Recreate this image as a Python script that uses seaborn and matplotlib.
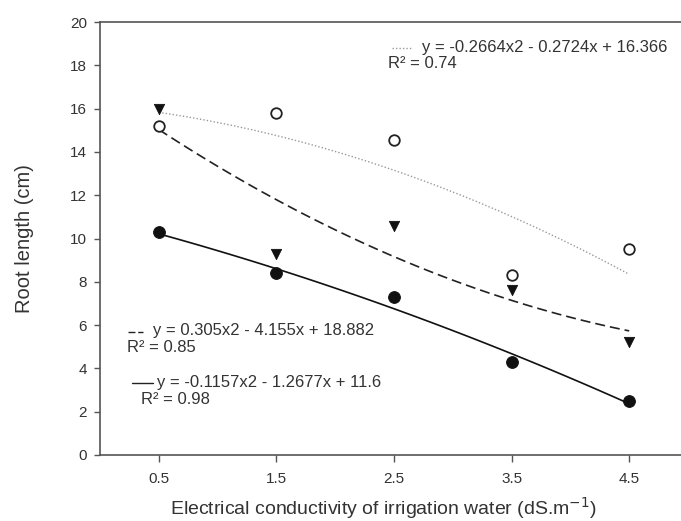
import numpy as np
import pandas as pd
import matplotlib
matplotlib.use("Agg")
import matplotlib.pyplot as plt
import seaborn as sns

ec = [0.5, 1.5, 2.5, 3.5, 4.5]
filled_circle = [10.3, 8.4, 7.3, 4.3, 2.5]
triangle = [16.0, 9.3, 10.6, 7.6, 5.2]
open_circle = [15.2, 15.8, 14.55, 8.3, 9.5]

coef_open = [-0.2664, -0.2724, 16.366]
coef_tri = [0.305, -4.155, 18.882]
coef_filled = [-0.1157, -1.2677, 11.6]

sns.set_theme(style="white")
plt.rcParams['font.family'] = ['Liberation Sans', 'DejaVu Sans']
tc = '#333333'

fig = plt.figure(figsize=(6.81, 5.21), dpi=100)
ax = fig.add_axes([100 / 681, 1 - 455 / 521, 588 / 681, 433 / 521])

# trend curves (x index 1..5 mapped onto 0.5..4.5)
xs = np.linspace(1, 5, 100)
xplot = xs - 0.5
def curve(c):
    return c[0] * xs**2 + c[1] * xs + c[2]

sns.lineplot(x=xplot, y=curve(coef_open), ax=ax, color='#999999', lw=1.0,
             linestyle=(0, (1, 1.5)))
sns.lineplot(x=xplot, y=curve(coef_tri), ax=ax, color='#222222', lw=1.2,
             linestyle=(0, (6, 3)))
sns.lineplot(x=xplot, y=curve(coef_filled), ax=ax, color='#111111', lw=1.2)

sns.scatterplot(x=ec, y=open_circle, ax=ax, marker='o', s=58,
                facecolor='white', edgecolor='#222222', linewidth=1.3, zorder=5)
sns.scatterplot(x=ec, y=triangle, ax=ax, marker='v', s=55,
                color='#111111', edgecolor='#111111', zorder=5)
sns.scatterplot(x=ec, y=filled_circle, ax=ax, marker='o', s=72,
                color='#111111', edgecolor='#111111', zorder=5)

ax.set_xlim(0, 5)
ax.set_ylim(0, 20)
ax.set_xticks(ec)
ax.set_xticklabels([str(v) for v in ec])
ax.set_yticks(np.arange(0, 21, 2))
ax.tick_params(axis='both', colors='#555555', labelcolor=tc, labelsize=11,
               length=5, direction='out', bottom=True, left=True, width=1)
ax.tick_params(axis='x', pad=7)
ax.tick_params(axis='y', pad=5, length=4.5)
for s in ['left', 'bottom', 'top']:
    ax.spines[s].set_color('#555555')
    ax.spines[s].set_linewidth(1.2)
ax.spines['right'].set_visible(False)
ax.set_xlabel('')
ax.set_ylabel('')

def px(x, y):
    return (x / 681, 1 - y / 521)

fig.text(*px(383, 508), 'Electrical conductivity of irrigation water (dS.m$^{-1}$)',
         fontsize=14, color=tc, ha='center', va='center')
fig.text(*px(24, 239), 'Root length (cm)', fontsize=14.5, color=tc,
         ha='center', va='center', rotation=90)

# equation annotations
fs = 12
fig.add_artist(plt.Line2D([392 / 681, 411 / 681], [1 - 48 / 521] * 2,
                          color='#999999', lw=1, linestyle=(0, (1, 1.5))))
fig.text(*px(422, 47), 'y = -0.2664x2 - 0.2724x + 16.366', fontsize=fs,
         color=tc, va='center')
fig.text(*px(388, 64), 'R² = 0.74', fontsize=fs, color=tc, va='center')

fig.add_artist(plt.Line2D([128 / 681, 143 / 681], [1 - 332 / 521] * 2,
                          color='#222222', lw=1, linestyle=(0, (5, 2))))
fig.text(*px(153, 330), 'y = 0.305x2 - 4.155x + 18.882', fontsize=fs,
         color=tc, va='center')
fig.text(*px(127, 348), 'R² = 0.85', fontsize=fs, color=tc, va='center')

fig.add_artist(plt.Line2D([132 / 681, 153 / 681], [1 - 383 / 521] * 2,
                          color='#222222', lw=1))
fig.text(*px(157, 382), 'y = -0.1157x2 - 1.2677x + 11.6', fontsize=fs,
         color=tc, va='center')
fig.text(*px(141, 400), 'R² = 0.98', fontsize=fs, color=tc, va='center')

fig.savefig('out.png', dpi=100)
